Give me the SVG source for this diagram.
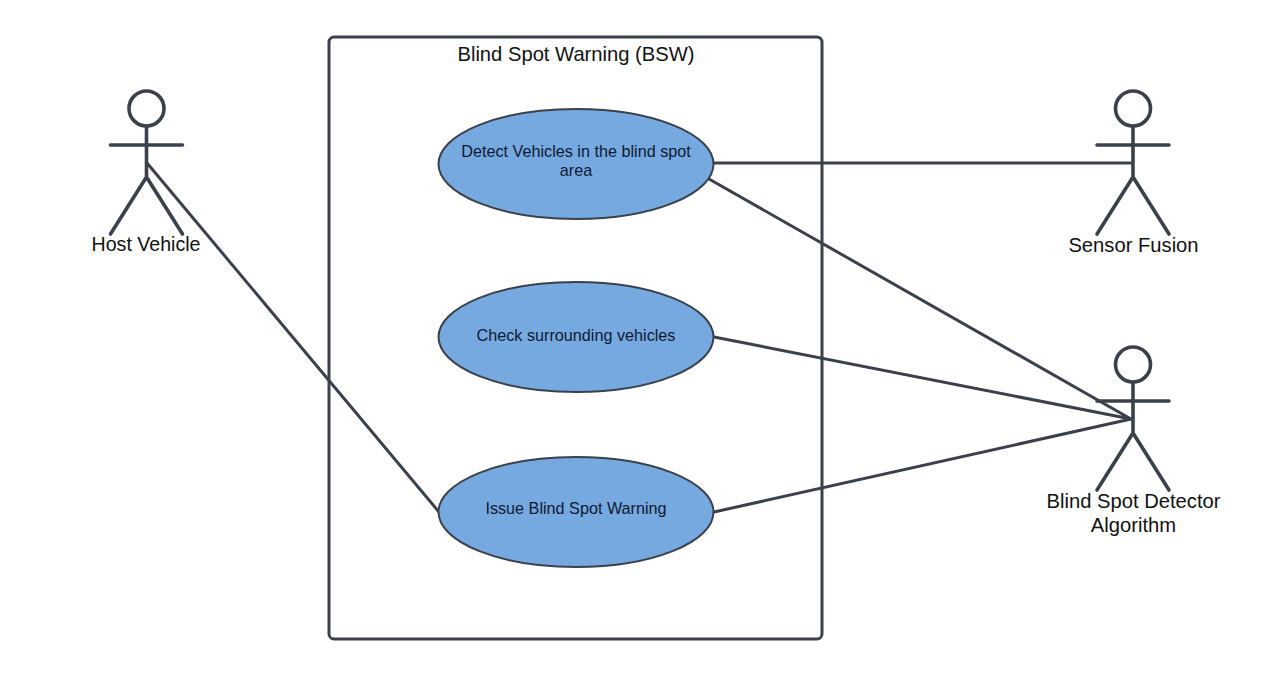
<svg xmlns="http://www.w3.org/2000/svg" width="1280" height="677" viewBox="0 0 1280 677">
<style>
.l{fill:none;stroke:#3a414a;stroke-width:3;stroke-linecap:round;stroke-linejoin:round}
.h{fill:none;stroke:#3a414a;stroke-width:3.600}
.b{fill:none;stroke:#3a414a;stroke-width:3.600;stroke-linecap:round;stroke-linejoin:round}
.u{fill:#75a9e0;stroke:#3a414a;stroke-width:2}
text{font-family:"Liberation Sans",Arial,sans-serif;fill:#111;text-anchor:middle}
.a{font-size:20.200px}
.c{font-size:16.200px;fill:#0f1a33}
</style>
<defs>
<g id="actor"><circle class="h" cx="0" cy="17.500" r="17.500"/><path class="b" d="M0 36V86M-36 54H36M0 86L-36 143M0 86L36 143"/></g>
</defs>
<rect width="1280" height="677" fill="#fff"/>
<g id="system"><rect class="l" x="329" y="37" width="493" height="602" rx="5"/><text class="a" x="576" y="60.500">Blind Spot Warning (BSW)</text></g>
<g id="connectors">
<path class="l" d="M147 163L439 512M711 163H1131M709 179L1131 419M714 337L1131 419M714 512L1131 419"/>
</g>
<g id="uc1"><ellipse class="u" cx="576" cy="164" rx="137.500" ry="55"/><text class="c" x="576" y="157">Detect Vehicles in the blind spot</text><text class="c" x="576" y="176">area</text></g>
<g id="uc2"><ellipse class="u" cx="576" cy="337" rx="137.500" ry="55"/><text class="c" x="576" y="341">Check surrounding vehicles</text></g>
<g id="uc3"><ellipse class="u" cx="576" cy="512" rx="137.500" ry="55"/><text class="c" x="576" y="514">Issue Blind Spot Warning</text></g>
<g id="host"><use href="#actor" x="146.500" y="91"/><text class="a" x="146" y="251" style="font-size:19.600px">Host Vehicle</text></g>
<g id="sensor"><use href="#actor" x="1133" y="91"/><text class="a" x="1133.500" y="252">Sensor Fusion</text></g>
<g id="detector"><use href="#actor" x="1133" y="347"/><text class="a" x="1133.500" y="508">Blind Spot Detector</text><text class="a" x="1133.500" y="532">Algorithm</text></g>
</svg>
